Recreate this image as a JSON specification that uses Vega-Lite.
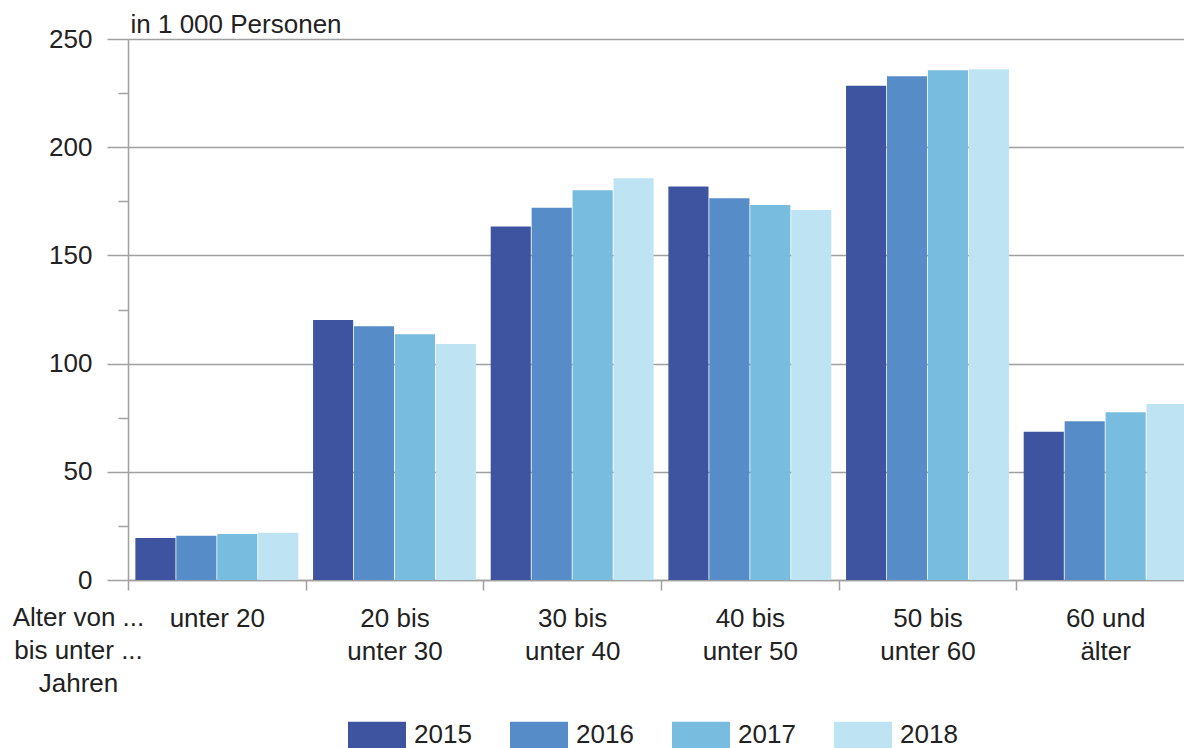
{
  "$schema": "https://vega.github.io/schema/vega-lite/v6.json",
  "autosize": {"type": "none"},
  "padding": {"left": 128, "top": 39, "right": 0, "bottom": 168},
  "width": 1066,
  "height": 541,
  "config": {
    "font": "Liberation Sans",
    "view": {"stroke": null},
    "axis": {"labelFont": "Liberation Sans", "titleFont": "Liberation Sans", "labelColor": "#222222", "titleColor": "#222222", "labelFontSize": 26, "titleFontSize": 26, "titleFontWeight": "normal", "domainColor": "#a0a0a0", "tickColor": "#a0a0a0", "gridColor": "#a0a0a0", "domainWidth": 1.5, "tickWidth": 1.5, "gridWidth": 1.5}
  },
  "data": {
    "values": [
      {"alter": "unter 20", "jahr": "2015", "wert": 19.4},
      {"alter": "unter 20", "jahr": "2016", "wert": 20.4},
      {"alter": "unter 20", "jahr": "2017", "wert": 21.2},
      {"alter": "unter 20", "jahr": "2018", "wert": 21.8},
      {"alter": "20 bis unter 30", "jahr": "2015", "wert": 120.1},
      {"alter": "20 bis unter 30", "jahr": "2016", "wert": 117.3},
      {"alter": "20 bis unter 30", "jahr": "2017", "wert": 113.6},
      {"alter": "20 bis unter 30", "jahr": "2018", "wert": 109.0},
      {"alter": "30 bis unter 40", "jahr": "2015", "wert": 163.4},
      {"alter": "30 bis unter 40", "jahr": "2016", "wert": 172.0},
      {"alter": "30 bis unter 40", "jahr": "2017", "wert": 180.1},
      {"alter": "30 bis unter 40", "jahr": "2018", "wert": 185.6},
      {"alter": "40 bis unter 50", "jahr": "2015", "wert": 181.8},
      {"alter": "40 bis unter 50", "jahr": "2016", "wert": 176.4},
      {"alter": "40 bis unter 50", "jahr": "2017", "wert": 173.3},
      {"alter": "40 bis unter 50", "jahr": "2018", "wert": 171.0},
      {"alter": "50 bis unter 60", "jahr": "2015", "wert": 228.4},
      {"alter": "50 bis unter 60", "jahr": "2016", "wert": 232.8},
      {"alter": "50 bis unter 60", "jahr": "2017", "wert": 235.6},
      {"alter": "50 bis unter 60", "jahr": "2018", "wert": 236.0},
      {"alter": "60 und älter", "jahr": "2015", "wert": 68.5},
      {"alter": "60 und älter", "jahr": "2016", "wert": 73.4},
      {"alter": "60 und älter", "jahr": "2017", "wert": 77.5},
      {"alter": "60 und älter", "jahr": "2018", "wert": 81.3}
    ]
  },
  "mark": {"type": "bar"},
  "encoding": {
    "x": {
      "field": "alter", "type": "nominal", "sort": null,
      "scale": {"paddingInner": 0, "paddingOuter": 0},
      "axis": {
        "title": ["Alter von ...", "bis unter ...", "Jahren"],
        "titleX": -50, "titleY": 45, "titleAlign": "center", "titleBaseline": "alphabetic", "titleLineHeight": 33, "titleAnchor": null,
        "labelAngle": 0, "labelPadding": 15, "labelLineHeight": 33,
        "labelExpr": "indexof(datum.label, ' bis ') > 0 ? [substring(datum.label, 0, 6), substring(datum.label, 7)] : (datum.label == '60 und älter' ? ['60 und', 'älter'] : datum.label)",
        "tickBand": "extent", "tickSize": 10, "domain": true
      }
    },
    "xOffset": {"field": "jahr", "type": "nominal", "scale": {"paddingOuter": 0.18, "paddingInner": 0.02}},
    "y": {
      "field": "wert", "type": "quantitative",
      "scale": {"domain": [0, 250], "nice": false},
      "axis": {
        "title": "in 1 000 Personen", "titleAngle": 0, "titleAlign": "left", "titleBaseline": "alphabetic", "titleX": 2, "titleY": -7, "titleAnchor": null,
        "values": [0, 25, 50, 75, 100, 125, 150, 175, 200, 225, 250],
        "labelExpr": "datum.value % 50 === 0 ? datum.label : ''",
        "tickSize": {"condition": {"test": "datum.value % 50 === 0", "value": 21}, "value": 10},
        "gridOpacity": {"condition": {"test": "datum.value % 50 === 0", "value": 1}, "value": 0},
        "grid": true, "labelPadding": 15
      }
    },
    "color": {
      "field": "jahr", "type": "nominal",
      "scale": {"domain": ["2015", "2016", "2017", "2018"], "range": ["#3f54a0", "#568cc8", "#78bcdf", "#bee4f4"]},
      "legend": {
        "title": null, "orient": "none", "direction": "horizontal", "legendX": 220, "legendY": 667,
        "symbolType": "M-1,-0.466H1V0.466H-1Z", "symbolSize": 3364, "symbolStrokeWidth": 0,
        "labelFontSize": 26, "labelFont": "Liberation Sans", "labelColor": "#222222", "labelOffset": 8, "columnPadding": 38
      }
    }
  }
}
